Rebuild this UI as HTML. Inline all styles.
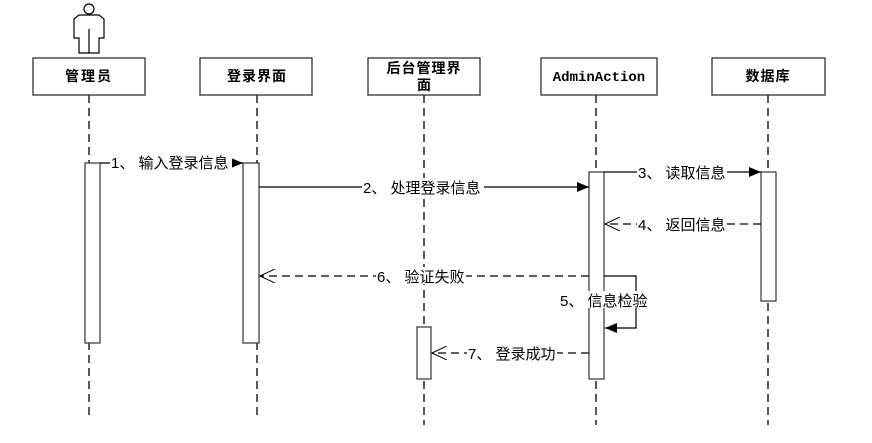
<html><body style="margin:0;background:#fff">
<svg width="872" height="443" xmlns="http://www.w3.org/2000/svg" font-family="Liberation Sans, Noto Sans CJK SC, sans-serif" font-size="15">
<defs>
<marker id="f" markerWidth="12" markerHeight="10" refX="12" refY="5" orient="auto" markerUnits="userSpaceOnUse"><path d="M0,0 L12,5 L0,10z" fill="#000"/></marker>
<marker id="o" markerWidth="16" markerHeight="14" refX="15" refY="7" orient="auto" markerUnits="userSpaceOnUse"><path d="M0,0 L15,7 L0,14" fill="none" stroke="#000"/></marker>
</defs>
<g stroke="#000" stroke-dasharray="8,5" stroke-width="1.3">
<line x1="89" y1="95" x2="89" y2="415"/><line x1="257" y1="95" x2="257" y2="415"/><line x1="424" y1="95" x2="424" y2="425"/><line x1="596" y1="95" x2="596" y2="425"/><line x1="768" y1="95" x2="768" y2="425"/>
</g>
<g fill="#fff" stroke="#000" stroke-width="1.2">
<circle cx="89" cy="9" r="5"/>
<path d="M79,15 H99 L104,19 V38 H99 V53 H79 V38 H74 V19 Z"/>
<line x1="89" y1="29" x2="89" y2="53"/>
</g>
<g fill="#fff" stroke="#333" stroke-width="1.3">
<rect x="33" y="58" width="112" height="37"/><rect x="200" y="58" width="112" height="37"/><rect x="368" y="58" width="112" height="37"/><rect x="541" y="58" width="116" height="37"/><rect x="712" y="58" width="113" height="37"/>
</g>
<g font-weight="bold" text-anchor="middle" font-size="14">
<text x="89" y="81" letter-spacing="2">管理员</text><text x="257" y="81" letter-spacing="1">登录界面</text>
<text x="424" y="73" letter-spacing="1">后台管理界</text><text x="424" y="90">面</text>
<text x="599" y="81" font-family="Liberation Mono, monospace">AdminAction</text><text x="768" y="81" letter-spacing="1">数据库</text>
</g>
<g fill="#fff" stroke="#333" stroke-width="1.2">
<rect x="85" y="163" width="15" height="180"/><rect x="243" y="163" width="16" height="180"/><rect x="417" y="327" width="14" height="52"/><rect x="589" y="172" width="15" height="207"/><rect x="761" y="172" width="15" height="129"/>
</g>
<g stroke="#000" stroke-width="1.2" fill="none">
<line x1="100" y1="163" x2="243" y2="163" marker-end="url(#f)"/>
<line x1="259" y1="187" x2="589" y2="187" marker-end="url(#f)"/>
<line x1="604" y1="172" x2="761" y2="172" marker-end="url(#f)"/>
<line x1="761" y1="224" x2="605" y2="224" stroke-dasharray="8,5" marker-end="url(#o)"/>
<line x1="589" y1="276" x2="260" y2="276" stroke-dasharray="8,5" marker-end="url(#o)"/>
<polyline points="604,276 636,276 636,328 605,328" marker-end="url(#f)"/>
<line x1="589" y1="353" x2="432" y2="353" stroke-dasharray="8,5" marker-end="url(#o)"/>
</g>
<g fill="#000">
<rect x="110" y="154" width="122" height="17" fill="#fff"/><text x="111" y="168">1、 输入登录信息</text>
<rect x="362" y="178" width="122" height="17" fill="#fff"/><text x="363" y="193">2、 处理登录信息</text>
<rect x="637" y="163" width="90" height="17" fill="#fff"/><text x="638" y="178">3、 读取信息</text>
<rect x="637" y="215" width="90" height="17" fill="#fff"/><text x="638" y="230">4、 返回信息</text>
<rect x="376" y="267" width="90" height="17" fill="#fff"/><text x="377" y="282">6、 验证失败</text>
<rect x="559" y="291" width="90" height="17" fill="#fff"/><text x="560" y="306">5、 信息检验</text>
<rect x="467" y="344" width="90" height="17" fill="#fff"/><text x="468" y="359">7、 登录成功</text>
</g>
</svg>
</body></html>
